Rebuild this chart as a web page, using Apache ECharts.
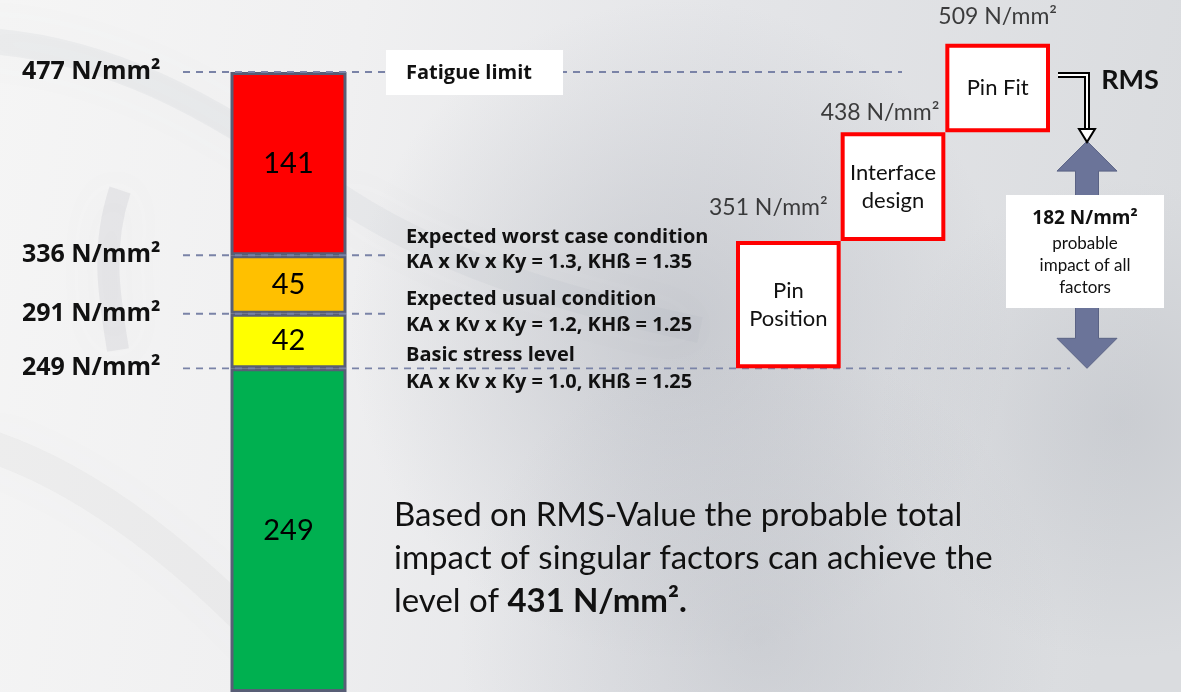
<!DOCTYPE html>
<html>
<head>
<meta charset="utf-8">
<title>Stress levels</title>
<script src="https://cdn.jsdelivr.net/npm/echarts@6/dist/echarts.min.js"></script>
<style>
  html, body { margin: 0; padding: 0; }
  #chart { width: 1181px; height: 692px; }
</style>
</head>
<body>
<div id="chart"></div>
<script>
// stress column (bottom to top)
const segNames = ['Basic stress level', 'Expected usual condition', 'Expected worst case condition', 'Fatigue limit'];
const segValues = [249, 42, 45, 141];
// levels marked with dashed lines
const levelValues = [477, 336, 291, 249];
// singular factors (waterfall)
const boxNames = ['Pin\nPosition', 'Interface\ndesign', 'Pin Fit'];
const boxTops = [351, 438, 509];
const baseLevel = 249;
const rmsLevel = 431;

const segColors = ['#00b050', '#ffff00', '#ffc000', '#ff0000'];
// x extent of each dashed level line, in px
const lineSpans = [[183, 902], [183, 385], [183, 385], [183, 1070]];
const boxLabelOffsets = [[-20, -8], [-13, 5], [0, -2]];
const font = 'Lato';
const boldFont = 'Open Sans';

const boxBottoms = boxTops.map((t, i) => (i === 0 ? baseLevel : boxTops[i - 1]));
const boxSteps = boxTops.map((t, i) => t - boxBottoms[i]);

const chart = echarts.init(document.getElementById('chart'));

let series = [];

// stacked column
segValues.forEach((v, i) => {
  series.push({
    name: segNames[i],
    type: 'bar',
    stack: 'stress',
    xAxisIndex: 0,
    yAxisIndex: 0,
    barWidth: '100%',
    data: [v],
    itemStyle: { color: segColors[i], borderColor: '#585e76', borderWidth: 3 },
    label: { show: true, position: 'inside', color: '#000', fontSize: 29, fontFamily: font },
    z: 3,
  });
});

// dashed level lines
levelValues.forEach((lv, i) => {
  series.push({
    type: 'line',
    xAxisIndex: 1,
    yAxisIndex: 1,
    symbol: 'circle',
    symbolSize: 1,
    itemStyle: { color: 'rgba(0,0,0,0)' },
    lineStyle: { color: '#7a83a7', width: 1.8, type: [7, 6] },
    data: [
      {
        value: [lineSpans[i][0], lv],
        label: {
          show: true,
          position: 'left',
          distance: 22,
          formatter: lv + ' N/mm²',
          color: '#111',
          fontSize: 25,
          fontWeight: 'bold',
          fontFamily: boldFont,
        },
      },
      [lineSpans[i][1], lv],
    ],
    silent: true,
    z: 4,
  });
});

// waterfall boxes
series.push({
  type: 'bar',
  stack: 'boxes',
  xAxisIndex: 2,
  yAxisIndex: 2,
  barWidth: '100%',
  data: boxBottoms,
  itemStyle: { color: 'rgba(0,0,0,0)' },
  silent: true,
});
series.push({
  type: 'bar',
  stack: 'boxes',
  xAxisIndex: 2,
  yAxisIndex: 2,
  barWidth: '100%',
  data: boxSteps,
  itemStyle: { color: '#fff', borderColor: '#ff0000', borderWidth: 4 },
  label: {
    show: true,
    position: 'inside',
    formatter: (p) => boxNames[p.dataIndex],
    color: '#111',
    fontSize: 22,
    lineHeight: 28,
    fontFamily: font,
  },
  z: 5,
});
series.push({
  type: 'scatter',
  xAxisIndex: 2,
  yAxisIndex: 2,
  symbolSize: 1,
  itemStyle: { color: 'rgba(0,0,0,0)' },
  data: boxTops.map((t, i) => ({
    value: [i, t],
    label: { offset: boxLabelOffsets[i] },
  })),
  label: {
    show: true,
    position: 'top',
    distance: 13,
    formatter: (p) => p.value[1] + ' N/mm²',
    color: '#111',
    fontSize: 23,
    fontFamily: font,
  },
  silent: true,
  z: 6,
});

// double arrow spanning base level -> RMS level
series.push({
  type: 'custom',
  xAxisIndex: 2,
  yAxisIndex: 2,
  data: [[0, baseLevel, rmsLevel]],
  renderItem: (params, api) => {
    const top = api.coord([0, api.value(2)])[1];
    const bot = api.coord([0, api.value(1)])[1];
    const cx = 1087, hw = 30, sw = 11.5, hh = 30;
    return {
      type: 'polygon',
      shape: {
        points: [
          [cx, top], [cx + hw, top + hh], [cx + sw, top + hh],
          [cx + sw, bot - hh], [cx + hw, bot - hh], [cx, bot],
          [cx - hw, bot - hh], [cx - sw, bot - hh], [cx - sw, top + hh],
          [cx - hw, top + hh],
        ],
      },
      style: { fill: '#6b7499', stroke: '#5a6284', lineWidth: 1 },
    };
  },
  silent: true,
  z: 5,
});

const annotations = [
  ['Expected worst case condition', 237],
  ['KA x Kv x Ky = 1.3, KHß = 1.35', 262],
  ['Expected usual condition', 299],
  ['KA x Kv x Ky = 1.2, KHß = 1.25', 325],
  ['Basic stress level', 355],
  ['KA x Kv x Ky = 1.0, KHß = 1.25', 382],
];

function swirl(x1, y1, cx1, cy1, cx2, cy2, x2, y2, w, a) {
  return {
    type: 'bezierCurve', z: -10, silent: true,
    shape: { x1: x1, y1: y1, cpx1: cx1, cpy1: cy1, cpx2: cx2, cpy2: cy2, x2: x2, y2: y2 },
    style: { fill: null, stroke: 'rgba(160,164,172,' + a + ')', lineWidth: w, shadowBlur: 50, shadowColor: 'rgba(140,145,155,0.3)' },
  };
}

function glow(cx, cy, r, a) {
  return {
    type: 'circle', z: -11, silent: true,
    shape: { cx: cx, cy: cy, r: r },
    style: {
      fill: {
        type: 'radial', x: 0.5, y: 0.5, r: 0.5,
        colorStops: [
          { offset: 0, color: 'rgba(165,169,178,' + a + ')' },
          { offset: 1, color: 'rgba(165,169,178,0)' },
        ],
      },
    },
  };
}

let graphics = [
  // background shading and swirls
  glow(680, 330, 330, 0.45),
  glow(760, 640, 300, 0.35),
  glow(1120, 420, 240, 0.3),
  swirl(-40, 40, 100, 40, 220, 110, 330, 190, 26, 0.1),
  swirl(330, 190, 430, 260, 560, 300, 700, 330, 26, 0.09),
  swirl(-30, 440, 80, 470, 200, 560, 320, 700, 32, 0.08),
  swirl(120, 190, 100, 250, 110, 300, 118, 350, 22, 0.16),

  // fatigue limit tag
  { type: 'rect', z: 10, shape: { x: 386, y: 50, width: 177, height: 45 }, style: { fill: '#fff' } },
  { type: 'text', z: 11, x: 406, y: 73,
    style: { text: 'Fatigue limit', fill: '#111', font: 'bold 20px ' + boldFont, textVerticalAlign: 'middle' } },

  // RMS bent arrow
  { type: 'polyline', z: 10, shape: { points: [[1058, 75], [1087, 75], [1087, 130]] },
    style: { stroke: '#000', lineWidth: 6, fill: null } },
  { type: 'polyline', z: 11, shape: { points: [[1058, 75], [1087, 75], [1087, 131]] },
    style: { stroke: '#fff', lineWidth: 2, fill: null } },
  { type: 'polygon', z: 11, shape: { points: [[1079, 129], [1095, 129], [1087, 142]] },
    style: { fill: '#fff', stroke: '#000', lineWidth: 2 } },
  { type: 'text', z: 11, x: 1130, y: 80,
    style: { text: 'RMS', fill: '#111', font: 'bold 27px ' + font, textAlign: 'center', textVerticalAlign: 'middle' } },

  // impact box
  { type: 'rect', z: 10, shape: { x: 1006, y: 195, width: 158, height: 113 }, style: { fill: '#fff' } },
  { type: 'text', z: 11, x: 1085, y: 219,
    style: { text: (rmsLevel - baseLevel) + ' N/mm²', fill: '#111', font: 'bold 19px ' + boldFont, textAlign: 'center', textVerticalAlign: 'middle' } },
  { type: 'text', z: 11, x: 1085, y: 266,
    style: { text: 'probable\nimpact of all\nfactors', fill: '#111', font: '17px ' + font, lineHeight: 22, textAlign: 'center', textVerticalAlign: 'middle' } },

  // summary text
  { type: 'text', z: 11, x: 394, y: 558,
    style: {
      text: 'Based on RMS-Value the probable total\nimpact of singular factors can achieve the\nlevel of {b|' + rmsLevel + ' N/mm².}',
      fill: '#111',
      font: '33px ' + font,
      lineHeight: 43,
      textVerticalAlign: 'middle',
      rich: { b: { fontWeight: 'bold', fontSize: 33, fontFamily: font, lineHeight: 43 } },
    } },
];

annotations.forEach((a) => {
  graphics.push({ type: 'text', z: 11, x: 406, y: a[1],
    style: { text: a[0], fill: '#111', font: 'bold 20px ' + boldFont, textVerticalAlign: 'middle' } });
});

chart.setOption({
  animation: false,
  backgroundColor: {
    type: 'linear', x: 0, y: 0, x2: 1, y2: 0.3,
    colorStops: [
      { offset: 0, color: '#f5f5f5' },
      { offset: 0.3, color: '#f0f0f1' },
      { offset: 0.6, color: '#e4e5e8' },
      { offset: 1, color: '#dadcdf' },
    ],
  },
  grid: [
    { left: 230.5, width: 116, top: 72, bottom: 0 },
    { left: 0, right: 0, top: 72, bottom: 0 },
    { left: 736, width: 314, top: 20, bottom: 262.5 },
  ],
  xAxis: [
    { gridIndex: 0, type: 'category', data: ['stress'], show: false },
    { gridIndex: 1, type: 'value', min: 0, max: 1181, show: false },
    { gridIndex: 2, type: 'category', data: boxNames, show: false },
  ],
  yAxis: [
    { gridIndex: 0, type: 'value', min: 0, max: 477, show: false },
    { gridIndex: 1, type: 'value', min: 0, max: 477, show: false },
    { gridIndex: 2, type: 'value', min: 200, max: 528, show: false },
  ],
  graphic: graphics,
  series: series,
});
</script>
</body>
</html>
